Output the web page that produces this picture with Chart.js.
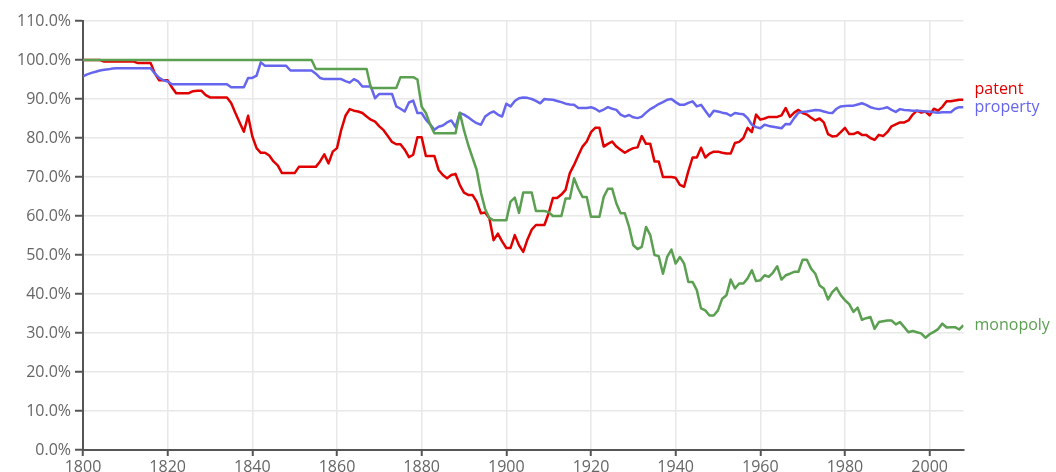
<!DOCTYPE html>
<html>
<head>
<meta charset="utf-8">
<script src="https://cdn.jsdelivr.net/npm/chart.js@4"></script>
<style>
    body { margin: 0; background: #fff; }
</style>
</head>
<body>
<canvas id="ngramChart" width="1056" height="472"></canvas>
<script>
// years 1800..2008, one value per year (share in %)
const startYear = 1800;
const endYear = 2008;

const patent = [
    100, 100, 100, 100, 100, 99.6, 99.6, 99.6, 99.6, 99.6,          // 1800s
    99.6, 99.6, 99.6, 99.2, 99.2, 99.2, 99.2, 96.5, 94.8, 94.8,     // 1810s
    94.8, 93, 91.5, 91.5, 91.5, 91.5, 92, 92.1, 92.1, 91,           // 1820s
    90.4, 90.4, 90.4, 90.4, 90.4, 89, 86.4, 84, 81.6, 85.7,         // 1830s
    80.4, 77.4, 76.2, 76.2, 75.5, 74, 73, 71, 71, 71,               // 1840s
    71, 72.6, 72.6, 72.6, 72.6, 72.6, 74, 75.8, 73.5, 76.5,         // 1850s
    77.4, 82.1, 85.7, 87.4, 87, 86.8, 86.4, 85.5, 84.7, 84.2,       // 1860s
    83, 82, 80.5, 79, 78.4, 78.4, 77, 75.1, 75.7, 80.2,             // 1870s
    80.2, 75.4, 75.4, 75.4, 71.8, 70.5, 69.7, 70.5, 70.8, 68,       // 1880s
    66, 65.4, 65.4, 63.7, 60.7, 60.9, 59.4, 53.8, 55.5, 53.5,       // 1890s
    51.8, 51.8, 55.1, 52.5, 50.8, 54, 56.5, 57.7, 57.7, 57.7,       // 1900s
    60.7, 64.6, 64.6, 65.5, 66.7, 71, 73.1, 75.5, 77.8, 79.1,       // 1910s
    81.5, 82.6, 82.6, 77.8, 78.5, 79.1, 77.8, 77, 76.2, 76.9,       // 1920s
    77.4, 77.6, 80.5, 78.5, 78.5, 74, 74, 70, 70, 70,               // 1930s
    69.8, 68, 67.5, 71.5, 75, 75, 77.5, 75, 76, 76.5,               // 1940s
    76.5, 76.2, 76, 76, 78.7, 79, 80, 82.6, 81.5, 86,               // 1950s
    84.7, 85, 85.4, 85.4, 85.4, 85.8, 87.7, 85.4, 86.5, 87.2,       // 1960s
    86.4, 86, 85.2, 84.5, 85, 84, 81, 80.4, 80.5, 81.5,             // 1970s
    82.6, 81, 81, 81.5, 80.8, 80.8, 80, 79.5, 80.8, 80.5,           // 1980s
    81.5, 83, 83.5, 84, 84, 84.5, 86, 87, 86.5, 86.8,               // 1990s
    85.8, 87.5, 87, 88, 89.4, 89.4, 89.6, 89.8, 89.8                // 2000s
];

const property = [
    95.8, 96.3, 96.7, 97, 97.3, 97.5, 97.6, 97.8, 97.9, 97.9,
    97.9, 97.9, 97.9, 97.9, 97.9, 97.9, 97.9, 96.5, 95.4, 94.8,
    94.5, 93.8, 93.8, 93.8, 93.8, 93.8, 93.8, 93.8, 93.8, 93.8,
    93.8, 93.8, 93.8, 93.8, 93.8, 93, 93, 93, 93, 95.4,
    95.4, 96, 99.4, 98.5, 98.5, 98.5, 98.5, 98.5, 98.5, 97.3,
    97.3, 97.3, 97.3, 97.3, 97.3, 96.5, 95.4, 95.1, 95.1, 95.1,
    95.1, 95.1, 94.6, 94.2, 95.1, 94.5, 93.2, 93.2, 93.2, 90.2,
    91.3, 91.3, 91.3, 91.3, 88.1, 87.5, 86.8, 89.1, 89.6, 86.4,
    86.4, 84.7, 83.5, 82.1, 82.9, 83.2, 84, 84.5, 82.8, 86.4,
    86, 85.3, 84.5, 83.8, 83.4, 85.5, 86.3, 86.8, 86, 85.5,
    88.8, 88.1, 89.5, 90.2, 90.4, 90.3, 90, 89.5, 88.9, 90,
    89.9, 89.8, 89.5, 89.2, 88.8, 88.6, 88.5, 87.7, 87.7, 87.7,
    87.9, 87.5, 86.8, 87.3, 87.9, 87.5, 87.2, 86, 85.5, 85.9,
    85.3, 85.1, 85.5, 86.5, 87.4, 88, 88.7, 89.2, 89.8, 90,
    89.2, 88.5, 88.5, 89, 89.4, 88.1, 88.5, 87, 85.5, 87,
    86.8, 86.5, 86.3, 85.7, 86.4, 86.2, 86.1, 85.1, 83.4, 82.8,
    82.5, 83.4, 83.1, 82.9, 82.7, 82.5, 83.6, 83.5, 85.1, 86.5,
    86.7, 86.8, 87, 87.2, 87.1, 86.8, 86.5, 86.4, 87.5, 88.1,
    88.2, 88.3, 88.3, 88.6, 88.9, 88.5, 87.9, 87.6, 87.4, 87.6,
    87.9, 87.2, 86.7, 87.4, 87.2, 87.1, 87, 87, 86.9, 86.8,
    86.8, 86.6, 86.5, 86.6, 86.6, 86.6, 87.5, 87.9, 87.9
];

const monopoly = [
    100, 100, 100, 100, 100, 100, 100, 100, 100, 100,
    100, 100, 100, 100, 100, 100, 100, 100, 100, 100,
    100, 100, 100, 100, 100, 100, 100, 100, 100, 100,
    100, 100, 100, 100, 100, 100, 100, 100, 100, 100,
    100, 100, 100, 100, 100, 100, 100, 100, 100, 100,
    100, 100, 100, 100, 100, 97.7, 97.7, 97.7, 97.7, 97.7,
    97.7, 97.7, 97.7, 97.7, 97.7, 97.7, 97.7, 97.7, 92.8, 92.8,
    92.8, 92.8, 92.8, 92.8, 92.8, 95.6, 95.6, 95.6, 95.6, 95,
    88, 86.4, 83.5, 81.2, 81.2, 81.2, 81.2, 81.2, 81.2, 86.5,
    82, 78.2, 75, 71.8, 66, 61.8, 59.5, 58.9, 58.9, 58.9,
    58.9, 63.7, 64.7, 60.8, 66, 66, 66, 61.3, 61.3, 61.3,
    61, 60, 60, 60, 64.5, 64.5, 69.7, 67, 64.9, 64.9,
    59.8, 59.8, 59.8, 64.9, 67, 67, 63.2, 60.7, 60.7, 57.2,
    52.5, 51.5, 52.1, 57.2, 55.1, 50, 49.7, 45.2, 49.5, 51.4,
    47.8, 49.5, 47.8, 43.1, 43.1, 41, 36.3, 35.8, 34.5, 34.5,
    35.8, 38.8, 39.7, 43.7, 41.4, 42.7, 42.7, 44, 46.1, 43.3,
    43.5, 44.8, 44.4, 45.5, 47.1, 43.7, 44.8, 45.2, 45.7, 45.7,
    48.8, 48.8, 46.5, 45.2, 42.2, 41.4, 38.6, 40.5, 41.6, 39.7,
    38.4, 37.4, 35.4, 36.5, 33.4, 33.8, 34.1, 31.1, 32.8, 33,
    33.2, 33.2, 32.2, 32.8, 31.5, 30.2, 30.5, 30.2, 29.9, 28.8,
    29.7, 30.3, 31, 32.4, 31.4, 31.5, 31.5, 30.9, 32
];

const years = [];
for (let y = startYear; y <= endYear; y++) years.push(y);

function toPoints(values) {
    return values.map((v, i) => ({ x: years[i], y: v }));
}

Chart.defaults.font.family = '"Open Sans", sans-serif';

// word labels at the right end of each line
const endLabels = {
    id: 'endLabels',
    afterDatasetsDraw(chart) {
        const { ctx, chartArea, scales } = chart;
        const items = chart.data.datasets.map(ds => {
            const last = ds.data[ds.data.length - 1];
            return { text: ds.label, color: ds.borderColor, y: scales.y.getPixelForValue(last.y) };
        }).sort((a, b) => b.y - a.y);
        for (let i = 1; i < items.length; i++) {
            if (items[i - 1].y - items[i].y < 18) items[i].y = items[i - 1].y - 18;
        }
        ctx.save();
        ctx.font = '16px "Open Sans"';
        ctx.textBaseline = 'middle';
        items.forEach(it => {
            ctx.fillStyle = it.color;
            ctx.fillText(it.text, chartArea.right + 11, it.y);
        });
        ctx.restore();
    }
};

const line = (label, values, color, order) => ({
    label,
    data: toPoints(values),
    borderColor: color,
    borderWidth: 2.5,
    pointRadius: 0,
    tension: 0,
    borderJoinStyle: 'round',
    fill: false,
    order
});

const ctx = document.getElementById('ngramChart').getContext('2d');
const ngramChart = new Chart(ctx, {
    type: 'line',
    data: {
        datasets: [
            line('patent', patent, '#e00000', 3),
            line('property', property, '#6565ee', 2),
            line('monopoly', monopoly, '#5b9f51', 1)
        ]
    },
    options: {
        responsive: false,
        animation: false,
        devicePixelRatio: 1,
        layout: { padding: { top: 21, right: 92.5, left: 0, bottom: 0 } },
        plugins: {
            legend: { display: false },
            tooltip: { enabled: false }
        },
        scales: {
            x: {
                type: 'linear',
                min: startYear,
                max: endYear,
                ticks: {
                    stepSize: 20,
                    includeBounds: false,
                    autoSkip: false,
                    maxRotation: 0,
                    padding: 2,
                    color: '#666',
                    font: { size: 16 },
                    callback: v => String(v)
                },
                grid: { color: '#e8e8e8', lineWidth: 1.5, tickColor: '#555', tickLength: 6, tickWidth: 2 },
                border: { color: '#555', width: 2 },
                afterFit: s => { s.height = 22; }
            },
            y: {
                min: 0,
                max: 110,
                ticks: {
                    stepSize: 10,
                    padding: 4,
                    color: '#666',
                    font: { size: 16 },
                    callback: v => v.toFixed(1) + '%'
                },
                grid: { color: '#e8e8e8', lineWidth: 1.5, tickColor: '#555', tickLength: 8, tickWidth: 2 },
                border: { color: '#555', width: 2 },
                afterFit: s => { s.width = 83; }
            }
        }
    },
    plugins: [endLabels]
});
</script>
</body>
</html>
